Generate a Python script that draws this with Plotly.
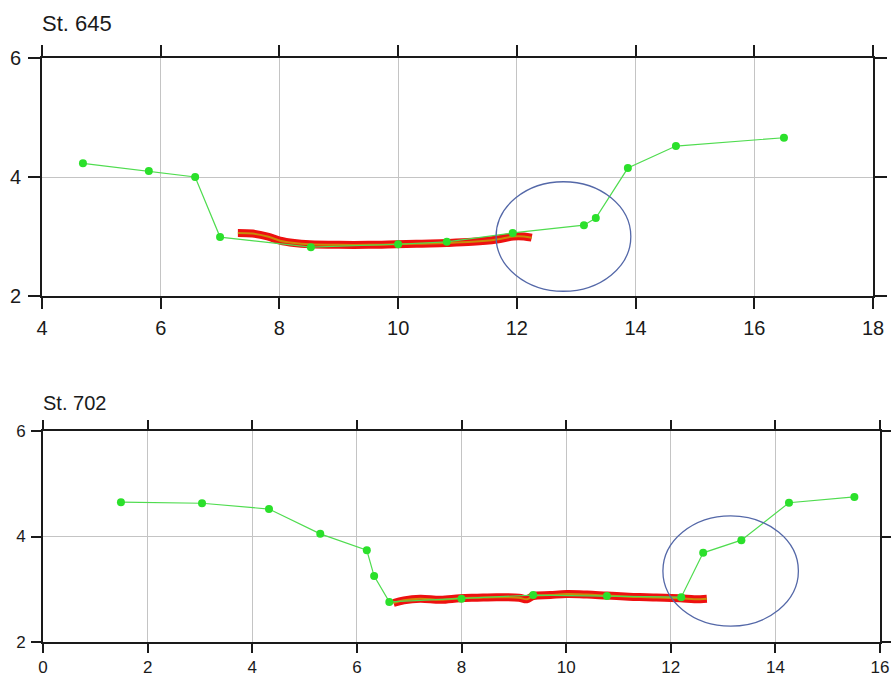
import plotly.graph_objects as go

OFF = 0
W, H = 891, 677

# ---- Station 645 (top panel) ----
st645_survey_x = [4.69, 5.80, 6.58, 7.00, 8.53, 10.00, 10.82, 11.93, 13.13, 13.33, 13.87, 14.68, 16.50]
st645_survey_y = [4.23, 4.10, 4.00, 2.99, 2.82, 2.87, 2.91, 3.06, 3.19, 3.31, 4.15, 4.52, 4.66]
st645_track_x = [7.30, 7.55, 7.80, 8.01, 8.25, 8.51, 9.00, 9.50, 9.97, 10.40, 10.82, 11.25, 11.66, 11.94, 12.12, 12.25]
st645_track_y = [3.06, 3.05, 3.00, 2.93, 2.89, 2.87, 2.86, 2.86, 2.87, 2.88, 2.89, 2.91, 2.95, 3.00, 3.00, 2.98]
st645_circle = [11.65, 13.92, 2.08, 3.92]  # x0, x1, y0, y1

# ---- Station 702 (bottom panel) ----
st702_survey_x = [1.49, 3.04, 4.32, 5.30, 6.19, 6.33, 6.62, 8.00, 9.37, 10.78, 12.20, 12.62, 13.35, 14.26, 15.51]
st702_survey_y = [4.65, 4.63, 4.52, 4.05, 3.74, 3.25, 2.76, 2.82, 2.89, 2.87, 2.85, 3.69, 3.93, 4.64, 4.75]
st702_track_x = [6.70, 6.90, 7.21, 7.60, 7.97, 8.30, 8.67, 9.10, 9.25, 9.37, 9.70, 10.01, 10.40, 10.78, 11.20, 11.54, 12.18, 12.45, 12.69]
st702_track_y = [2.74, 2.79, 2.82, 2.80, 2.83, 2.84, 2.85, 2.84, 2.81, 2.87, 2.89, 2.91, 2.90, 2.88, 2.86, 2.85, 2.83, 2.81, 2.82]
st702_circle = [11.85, 14.44, 2.30, 4.39]

top_xticks = [4, 6, 8, 10, 12, 14, 16, 18]
bot_xticks = [0, 2, 4, 6, 8, 10, 12, 14, 16]
yticks = [2, 4, 6]

GREEN = "#2be02b"
GREEN_LINE = "#4fdc4f"
RED = "#ee1010"
ORANGE = "#c98a08"
FONT = "Liberation Sans, Arial, sans-serif"


def px(v):
    return (v - OFF) / W


def py(v):
    return 1 - (v - OFF) / H


fig = go.Figure()


def add_panel(xr, yr, tx, ty, sx, sy):
    fig.add_trace(go.Scatter(x=tx, y=ty, xaxis=xr, yaxis=yr, mode="lines",
                             line=dict(color=RED, width=8, shape="spline"),
                             showlegend=False, hoverinfo="skip"))
    fig.add_trace(go.Scatter(x=tx, y=ty, xaxis=xr, yaxis=yr, mode="lines",
                             line=dict(color=ORANGE, width=2, shape="spline"),
                             showlegend=False, hoverinfo="skip"))
    fig.add_trace(go.Scatter(x=sx, y=sy, xaxis=xr, yaxis=yr, mode="lines+markers",
                             line=dict(color=GREEN_LINE, width=1.2),
                             marker=dict(color=GREEN, size=8),
                             showlegend=False))


add_panel("x", "y", st645_track_x, st645_track_y, st645_survey_x, st645_survey_y)
add_panel("x2", "y2", st702_track_x, st702_track_y, st702_survey_x, st702_survey_y)

for xr, yr, c in (("x", "y", st645_circle), ("x2", "y2", st702_circle)):
    fig.add_shape(type="circle", xref=xr, yref=yr, x0=c[0], x1=c[1], y0=c[2], y1=c[3],
                  line=dict(color="#5468a8", width=1.3))

axis_common = dict(showline=True, linecolor="#1a1a1a", linewidth=1.6, mirror="allticks",
                   ticks="outside", tickcolor="#1a1a1a", tickwidth=1.6,
                   showgrid=True, gridcolor="#c4c4c4", gridwidth=1.3,
                   zeroline=False, automargin=False, fixedrange=True)

fig.update_layout(
    width=W, height=H,
    margin=dict(l=0, r=0, t=0, b=0),
    paper_bgcolor="white", plot_bgcolor="white",
    font=dict(family=FONT, color="#1a1a1a"),
    xaxis=dict(domain=[px(42), px(873)], range=[4, 18], tickvals=top_xticks, anchor="y",
               ticklen=11, tickfont=dict(size=20), ticklabelstandoff=2, **axis_common),
    yaxis=dict(domain=[py(296), py(58)], range=[2, 6], tickvals=yticks, anchor="x",
               ticklen=12, tickfont=dict(size=20), ticklabelstandoff=3, **axis_common),
    xaxis2=dict(domain=[px(43), px(880)], range=[0, 16], tickvals=bot_xticks, anchor="y2",
                ticklen=9, tickfont=dict(size=17), ticklabelstandoff=0, **axis_common),
    yaxis2=dict(domain=[py(642), py(431)], range=[2, 6], tickvals=yticks, anchor="x2",
                ticklen=10, tickfont=dict(size=17), ticklabelstandoff=2, **axis_common),
    annotations=[
        dict(text="St. 645", x=px(40), y=py(38), xref="paper", yref="paper",
             xanchor="left", yanchor="bottom", showarrow=False, font=dict(size=22)),
        dict(text="St. 702", x=px(41), y=py(416), xref="paper", yref="paper",
             xanchor="left", yanchor="bottom", showarrow=False, font=dict(size=20)),
    ],
)

fig.write_html(
    "out.html",
    config={"displayModeBar": False},
    post_script="document.documentElement.style.overflow='hidden';"
                "document.body.style.margin='0';document.body.style.overflow='hidden';",
)
